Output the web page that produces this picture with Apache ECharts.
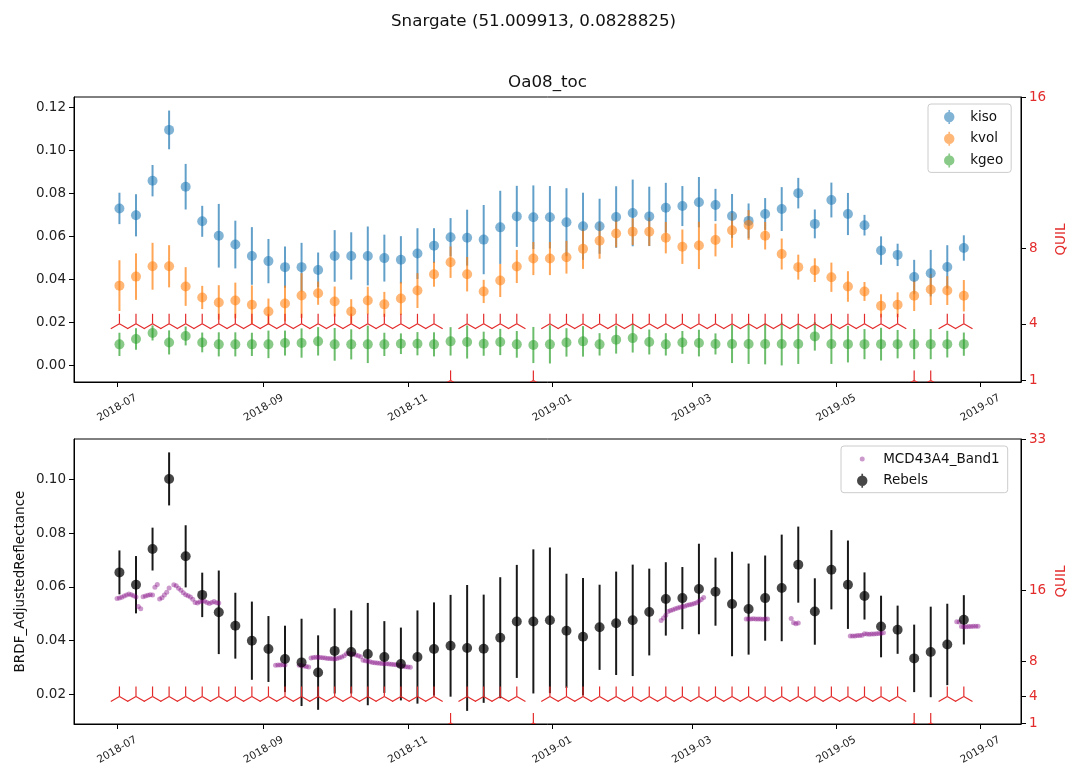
<!DOCTYPE html>
<html>
<head>
<meta charset="utf-8">
<script src="https://cdn.jsdelivr.net/npm/echarts@6/dist/echarts.min.js"></script>
<style>
  html, body { margin: 0; padding: 0; background: #fff; }
  #chart { width: 1067px; height: 765px; }
</style>
</head>
<body>
<div id="chart"></div>
<script>
// ---- data ----
const figTitle = 'Snargate (51.009913, 0.0828825)';
const panelTitle = 'Oa08_toc';

const weekDates = [
  '2018-07-02','2018-07-09','2018-07-16','2018-07-23','2018-07-30','2018-08-06','2018-08-13','2018-08-20','2018-08-27',
  '2018-09-03','2018-09-10','2018-09-17','2018-09-24','2018-10-01','2018-10-08','2018-10-15','2018-10-22','2018-10-29',
  '2018-11-05','2018-11-12','2018-11-19','2018-11-26','2018-12-03','2018-12-10','2018-12-17','2018-12-24','2018-12-31',
  '2019-01-07','2019-01-14','2019-01-21','2019-01-28','2019-02-04','2019-02-11','2019-02-18','2019-02-25','2019-03-04',
  '2019-03-11','2019-03-18','2019-03-25','2019-04-01','2019-04-08','2019-04-15','2019-04-22','2019-04-29','2019-05-06',
  '2019-05-13','2019-05-20','2019-05-27','2019-06-03','2019-06-10','2019-06-17','2019-06-24'
];

const kiso = [0.0731,0.0699,0.0860,0.1096,0.0832,0.0671,0.0604,0.0563,0.0510,0.0486,0.0458,0.0458,0.0445,0.0510,0.0510,0.0510,0.0500,0.0492,0.0521,0.0558,0.0597,0.0595,0.0586,0.0643,0.0694,0.0690,0.0690,0.0667,0.0648,0.0648,0.0691,0.0710,0.0694,0.0734,0.0742,0.0760,0.0747,0.0696,0.0673,0.0705,0.0728,0.0802,0.0659,0.0770,0.0705,0.0653,0.0535,0.0515,0.0412,0.0430,0.0459,0.0547];
const kisoErr = [0.0073,0.0098,0.0073,0.0090,0.0106,0.0072,0.0148,0.0111,0.0134,0.0103,0.0096,0.0113,0.0081,0.0120,0.0110,0.0137,0.0109,0.0110,0.0118,0.0081,0.0089,0.0130,0.0161,0.0170,0.0142,0.0148,0.0145,0.0158,0.0156,0.0128,0.0143,0.0155,0.0138,0.0116,0.0093,0.0117,0.0075,0.0102,0.0081,0.0074,0.0102,0.0071,0.0067,0.0081,0.0098,0.0048,0.0066,0.0052,0.0080,0.0108,0.0101,0.0059];

const kvol = [0.0372,0.0414,0.0462,0.0462,0.0368,0.0317,0.0294,0.0303,0.0283,0.0252,0.0289,0.0326,0.0337,0.0298,0.0252,0.0303,0.0285,0.0312,0.0349,0.0425,0.0481,0.0425,0.0345,0.0396,0.0461,0.0498,0.0498,0.0504,0.0543,0.0581,0.0614,0.0623,0.0623,0.0595,0.0553,0.0559,0.0584,0.0629,0.0654,0.0604,0.0519,0.0458,0.0444,0.0411,0.0368,0.0345,0.0278,0.0283,0.0325,0.0354,0.0349,0.0325];
const kvolErr = [0.0118,0.0108,0.0109,0.0098,0.0090,0.0054,0.0080,0.0083,0.0090,0.0060,0.0083,0.0104,0.0054,0.0070,0.0057,0.0064,0.0058,0.0076,0.0081,0.0058,0.0073,0.0080,0.0054,0.0077,0.0077,0.0077,0.0077,0.0076,0.0093,0.0084,0.0064,0.0062,0.0066,0.0073,0.0080,0.0110,0.0076,0.0081,0.0069,0.0064,0.0072,0.0058,0.0055,0.0068,0.0071,0.0044,0.0054,0.0058,0.0071,0.0072,0.0067,0.0073];

const kgeo = [0.0099,0.0124,0.0152,0.0108,0.0138,0.0108,0.0099,0.0099,0.0099,0.0099,0.0105,0.0105,0.0113,0.0099,0.0099,0.0099,0.0099,0.0102,0.0102,0.0099,0.0113,0.0110,0.0102,0.0110,0.0099,0.0096,0.0099,0.0108,0.0113,0.0099,0.0121,0.0128,0.0110,0.0099,0.0108,0.0105,0.0101,0.0101,0.0101,0.0101,0.0101,0.0101,0.0136,0.0101,0.0100,0.0100,0.0100,0.0100,0.0100,0.0100,0.0100,0.0100];
const kgeoErr = [0.0054,0.0050,0.0035,0.0056,0.0044,0.0046,0.0056,0.0056,0.0054,0.0064,0.0058,0.0068,0.0066,0.0076,0.0070,0.0087,0.0054,0.0048,0.0054,0.0056,0.0066,0.0077,0.0056,0.0061,0.0062,0.0084,0.0089,0.0066,0.0071,0.0052,0.0065,0.0067,0.0058,0.0052,0.0053,0.0062,0.0049,0.0089,0.0093,0.0095,0.0100,0.0093,0.0066,0.0093,0.0085,0.0070,0.0076,0.0066,0.0070,0.0070,0.0062,0.0054];

const rebels = [0.0654,0.0608,0.0741,0.1003,0.0714,0.0570,0.0505,0.0455,0.0399,0.0368,0.0331,0.0318,0.0280,0.0361,0.0357,0.0349,0.0338,0.0312,0.0338,0.0368,0.0380,0.0372,0.0369,0.0410,0.0471,0.0471,0.0475,0.0436,0.0414,0.0449,0.0464,0.0475,0.0506,0.0555,0.0558,0.0592,0.0582,0.0536,0.0517,0.0558,0.0596,0.0683,0.0508,0.0664,0.0608,0.0566,0.0452,0.0440,0.0333,0.0357,0.0385,0.0477];
const rebelsErr = [0.0082,0.0107,0.0080,0.0099,0.0116,0.0083,0.0156,0.0123,0.0146,0.0123,0.0124,0.0163,0.0139,0.0159,0.0155,0.0191,0.0134,0.0136,0.0174,0.0174,0.0190,0.0235,0.0202,0.0226,0.0211,0.0269,0.0272,0.0213,0.0219,0.0159,0.0193,0.0208,0.0162,0.0137,0.0116,0.0169,0.0127,0.0195,0.0170,0.0159,0.0199,0.0142,0.0124,0.0148,0.0165,0.0088,0.0115,0.0090,0.0126,0.0169,0.0152,0.0092];

const quil = [4,4,4,4,4,4,4,4,4,4,4,4,4,4,4,4,4,4,4,4,1,4,4,4,4,1,4,4,4,4,4,4,4,4,4,4,4,4,4,4,4,4,4,4,4,4,4,4,1,1,4,4];

// MCD43A4 band 1, daily; days counted from mcdEpoch
const mcdEpoch = '2018-07-01';
const mcdDay = [
  0,1,2,3,4,5,6,7,8,9,10,11,12,13,14,15,16,17,18,19,20,21,22,
  24,25,26,27,28,29,30,31,32,33,34,35,36,37,38,39,40,41,42,43,
  67,68,69,70,71,
  77,78,79,80,81,82,83,84,85,86,87,88,89,90,91,92,93,94,95,96,97,98,99,100,
  101,102,103,104,105,106,107,108,109,110,111,112,113,114,115,116,117,118,119,120,121,122,123,124,
  230,231,232,233,234,235,236,237,238,239,240,241,242,243,244,245,246,247,248,
  266,267,268,269,270,271,272,273,274,275,
  285,286,287,288,
  310,311,312,313,314,315,316,317,318,319,320,321,322,323,324,
  355,356,357,358,359,360,361,362,363,364
];
const mcdBand1 = [
  0.0557,0.0558,0.0561,0.0566,0.0570,0.0573,0.0571,0.0567,0.0562,0.0527,0.0518,0.0563,0.0566,0.0569,0.0571,0.0570,0.0599,0.0609,0.0555,0.0559,0.0570,0.0580,0.0596,
  0.0608,0.0604,0.0595,0.0587,0.0578,0.0571,0.0567,0.0562,0.0554,0.0542,0.0540,0.0544,0.0547,0.0546,0.0542,0.0538,0.0542,0.0545,0.0541,0.0540,
  0.0307,0.0308,0.0308,0.0309,0.0308,
  0.0307,0.0306,0.0305,0.0303,0.0301,0.0334,0.0336,0.0337,0.0337,0.0336,0.0335,0.0334,0.0333,0.0333,0.0332,0.0331,0.0333,0.0335,0.0338,0.0343,0.0350,0.0352,0.0350,0.0348,
  0.0346,0.0343,0.0339,0.0326,0.0324,0.0322,0.0320,0.0318,0.0317,0.0316,0.0315,0.0314,0.0313,0.0313,0.0312,0.0311,0.0310,0.0309,0.0308,0.0306,0.0304,0.0302,0.0301,0.0300,
  0.0474,0.0484,0.0494,0.0508,0.0512,0.0515,0.0518,0.0521,0.0524,0.0526,0.0528,0.0531,0.0533,0.0535,0.0538,0.0541,0.0546,0.0553,0.0560,
  0.0480,0.0480,0.0480,0.0481,0.0480,0.0480,0.0480,0.0479,0.0480,0.0480,
  0.0482,0.0466,0.0462,0.0465,
  0.0417,0.0417,0.0417,0.0418,0.0418,0.0419,0.0425,0.0424,0.0423,0.0424,0.0424,0.0425,0.0426,0.0427,0.0429,
  0.0470,0.0469,0.0452,0.0451,0.0451,0.0452,0.0452,0.0453,0.0453,0.0453
];

// axis ticks
const monthTicks = ['2018-07-01','2018-09-01','2018-11-01','2019-01-01','2019-03-01','2019-05-01','2019-07-01'];
const xRange = ['2018-06-12T19:00:00Z', '2019-07-18T04:00:00Z'];
const kTicks = [0, 0.02, 0.04, 0.06, 0.08, 0.10, 0.12];
const reflTicks = [0.02, 0.04, 0.06, 0.08, 0.10];
const quilTicksTop = [1, 4, 8, 16];
const quilTicksBottom = [1, 4, 8, 16, 33];

// ---- helpers ----
const FONT = 'DejaVu Sans';
const RED = '#e32b2b';
const T = s => Date.parse(s.length === 10 ? s + 'T00:00:00Z' : s);
const DAY = 86400000;
const pad2 = n => String(n).padStart(2, '0');
const fmtMonth = v => { const d = new Date(v); return d.getUTCFullYear() + '-' + pad2(d.getUTCMonth() + 1); };

const weekTs = weekDates.map(T);
const mcdTs = mcdDay.map(d => T(mcdEpoch) + d * DAY);

const C_BLUE = 'rgba(31,119,180,0.7)';
const C_ORANGE = 'rgba(255,127,14,0.7)';
const C_GREEN = 'rgba(44,160,44,0.7)';
const C_BLACK = 'rgba(0,0,0,0.9)';
const C_PURPLE = 'rgba(128,0,128,0.5)';

// time runs along a numeric (millisecond) axis so month ticks can be placed exactly
function xAxis(gridIndex) {
  return {
    type: 'value', gridIndex, scale: true,
    min: T(xRange[0]), max: T(xRange[1]),
    axisLine: { show: true, onZero: false, lineStyle: { color: '#000', width: 1 } },
    axisTick: { show: true, length: 5, lineStyle: { color: '#000' }, customValues: monthTicks.map(T) },
    axisLabel: {
      customValues: monthTicks.map(T), formatter: v => fmtMonth(v),
      rotate: 30, align: 'center', verticalAlign: 'middle', margin: 26,
      fontSize: 10.5, color: '#222', fontFamily: FONT
    },
    splitLine: { show: false }, minorTick: { show: false }
  };
}
function yLeft(gridIndex, min, max, ticks, name) {
  return {
    type: 'value', gridIndex, position: 'left', min, max,
    name: name || '', nameLocation: 'middle', nameRotate: 90, nameGap: 47, nameMoveOverlap: false,
    nameTextStyle: { fontSize: 13.5, color: '#111', fontFamily: FONT },
    axisLine: { show: true, onZero: false, lineStyle: { color: '#000' } },
    axisTick: { show: true, length: 5, lineStyle: { color: '#000' }, customValues: ticks },
    axisLabel: { customValues: ticks, formatter: v => v.toFixed(2), fontSize: 13.5, color: '#222', margin: 8, fontFamily: FONT },
    splitLine: { show: false }
  };
}
function yRight(gridIndex, min, max, ticks) {
  return {
    type: 'value', gridIndex, position: 'right', min, max,
    name: 'QUIL', nameLocation: 'middle', nameRotate: 90, nameGap: 33, nameMoveOverlap: false,
    nameTextStyle: { fontSize: 13.5, color: RED, fontFamily: FONT },
    axisLine: { show: true, onZero: false, lineStyle: { color: '#000' } },
    axisTick: { show: true, length: 5, lineStyle: { color: '#000' }, customValues: ticks },
    axisLabel: { customValues: ticks, formatter: v => String(v), fontSize: 13.5, color: RED, margin: 8, fontFamily: FONT },
    splitLine: { show: false }
  };
}

// vertical error bars drawn through the axes' scales
function errorBars(name, xi, yi, vals, errs, color) {
  return {
    type: 'custom', name, xAxisIndex: xi, yAxisIndex: yi, clip: true, silent: true,
    data: weekTs.map((t, i) => [t, vals[i], errs[i]]),
    encode: { x: 0, y: 1 },
    renderItem: (params, api) => {
      const t = api.value(0), v = api.value(1), e = api.value(2);
      const a = api.coord([t, v - e]);
      const b = api.coord([t, v + e]);
      return { type: 'line', shape: { x1: a[0], y1: a[1], x2: b[0], y2: b[1] },
               style: { stroke: color, lineWidth: 2 } };
    }
  };
}
function points(name, xi, yi, ts, vals, color, size) {
  return {
    type: 'scatter', name, xAxisIndex: xi, yAxisIndex: yi, silent: true,
    symbol: 'circle', symbolSize: size,
    itemStyle: { color, borderWidth: 0 },
    data: ts.map((t, i) => [t, vals[i]])
  };
}
// QUIL shown with tri-up markers on the right-hand axis
function quilMarks(name, xi, yi) {
  return {
    type: 'custom', name, xAxisIndex: xi, yAxisIndex: yi, clip: true, silent: true,
    data: weekTs.map((t, i) => [t, quil[i]]),
    encode: { x: 0, y: 1 },
    renderItem: (params, api) => {
      const p = api.coord([api.value(0), api.value(1)]);
      const r = 10;
      const st = { stroke: RED, lineWidth: 1.2 };
      return { type: 'group', children: [
        { type: 'line', shape: { x1: p[0], y1: p[1], x2: p[0], y2: p[1] - r }, style: st },
        { type: 'line', shape: { x1: p[0], y1: p[1], x2: p[0] - 0.866 * r, y2: p[1] + 0.5 * r }, style: st },
        { type: 'line', shape: { x1: p[0], y1: p[1], x2: p[0] + 0.866 * r, y2: p[1] + 0.5 * r }, style: st }
      ] };
    }
  };
}

const errIcon = 'path://M4.2,0H5.8V1.9H4.2Z M4.2,11.5H5.8V13.4H4.2Z M0,6.7A5,5,0,1,1,10,6.7A5,5,0,1,1,0,6.7Z';
const dotIcon = 'path://M0,0h0.01v0.01h-0.01Z M9.99,13.99h0.01v0.01h-0.01Z M2.5,7A2.5,2.5,0,1,1,7.5,7A2.5,2.5,0,1,1,2.5,7Z';

const legendBase = {
  orient: 'vertical', itemWidth: 32, itemHeight: 14, itemGap: 7.7,
  padding: [6, 8, 5, 16], backgroundColor: '#fff', borderColor: '#ccc', borderWidth: 1, borderRadius: 3,
  selectedMode: false,
  textStyle: { fontSize: 13.5, color: '#111', fontFamily: FONT }
};
const gridBase = { left: 74, width: 947, height: 285, show: true, borderColor: '#000', borderWidth: 1,
  backgroundColor: 'transparent', containLabel: false, outerBoundsMode: 'none' };

const chart = echarts.init(document.getElementById('chart'), null, { renderer: 'canvas' });
chart.setOption({
  animation: false,
  backgroundColor: '#fff',
  textStyle: { fontFamily: FONT },
  grid: [
    Object.assign({ top: 97 }, gridBase),
    Object.assign({ top: 439 }, gridBase)
  ],
  xAxis: [xAxis(0), xAxis(1)],
  yAxis: [
    yLeft(0, -0.0076, 0.1249, kTicks),
    yRight(0, 0.915, 16.02, quilTicksTop),
    yLeft(1, 0.0088, 0.1152, reflTicks, 'BRDF_AdjustedReflectance'),
    yRight(1, 0.89, 33.08, quilTicksBottom)
  ],
  legend: [
    Object.assign({}, legendBase, {
      left: 928, top: 104,
      data: [
        { name: 'kiso', icon: errIcon, itemStyle: { color: C_BLUE } },
        { name: 'kvol', icon: errIcon, itemStyle: { color: C_ORANGE } },
        { name: 'kgeo', icon: errIcon, itemStyle: { color: C_GREEN } }
      ]
    }),
    Object.assign({}, legendBase, {
      left: 841, top: 446,
      data: [
        { name: 'MCD43A4_Band1', icon: dotIcon, itemStyle: { color: C_PURPLE } },
        { name: 'Rebels', icon: errIcon, itemStyle: { color: C_BLACK } }
      ]
    })
  ],
  graphic: [
    { type: 'text', x: 533.5, y: 22, silent: true,
      style: { text: figTitle, font: '16.7px "DejaVu Sans"', fill: '#111', align: 'center', verticalAlign: 'middle' } },
    { type: 'text', x: 547.5, y: 83, silent: true,
      style: { text: panelTitle, font: '16.7px "DejaVu Sans"', fill: '#111', align: 'center', verticalAlign: 'middle' } }
  ],
  series: [
    errorBars('kiso bars', 0, 0, kiso, kisoErr, C_BLUE),
    points('kiso', 0, 0, weekTs, kiso, C_BLUE, 10),
    errorBars('kvol bars', 0, 0, kvol, kvolErr, C_ORANGE),
    points('kvol', 0, 0, weekTs, kvol, C_ORANGE, 10),
    errorBars('kgeo bars', 0, 0, kgeo, kgeoErr, C_GREEN),
    points('kgeo', 0, 0, weekTs, kgeo, C_GREEN, 10),
    quilMarks('QUIL', 0, 1),

    points('MCD43A4_Band1', 1, 2, mcdTs, mcdBand1, C_PURPLE, 5),
    errorBars('Rebels bars', 1, 2, rebels, rebelsErr, C_BLACK),
    points('Rebels', 1, 2, weekTs, rebels, C_BLACK, 10),
    quilMarks('QUIL ', 1, 3)
  ]
});
</script>
</body>
</html>
